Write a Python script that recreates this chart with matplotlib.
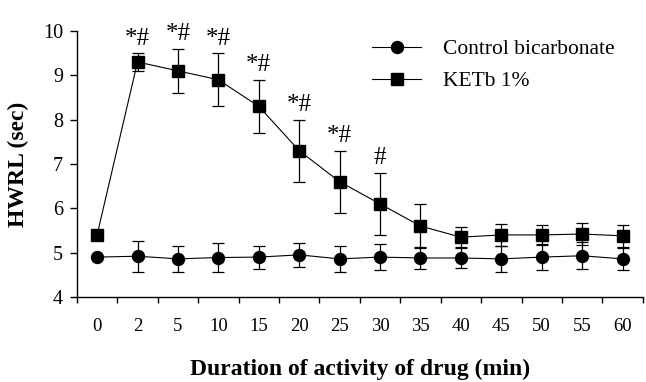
import numpy as np
import matplotlib.pyplot as plt
from matplotlib.lines import Line2D

plt.rcParams['font.family'] = ['Liberation Serif', 'DejaVu Serif']

# data
times = ['0', '2', '5', '10', '15', '20', '25', '30', '35', '40', '45', '50', '55', '60']
control = [4.90, 4.92, 4.86, 4.89, 4.90, 4.95, 4.86, 4.90, 4.88, 4.88, 4.86, 4.90, 4.93, 4.86]
control_err = [0.0, 0.35, 0.30, 0.33, 0.26, 0.27, 0.30, 0.30, 0.25, 0.22, 0.30, 0.30, 0.30, 0.25]
ketb = [5.40, 9.30, 9.10, 8.90, 8.30, 7.30, 6.60, 6.10, 5.60, 5.35, 5.40, 5.40, 5.42, 5.38]
ketb_err = [0.0, 0.20, 0.50, 0.60, 0.60, 0.70, 0.70, 0.70, 0.50, 0.22, 0.25, 0.23, 0.25, 0.25]
marks = ['', '*#', '*#', '*#', '*#', '*#', '*#', '#', '', '', '', '', '', '']

x = np.arange(len(times))

fig = plt.figure(figsize=(6.46, 3.82), dpi=100)
ax = fig.add_axes([0.119, 0.2225, 0.876, 0.6965])

ax.errorbar(x, control, yerr=control_err, fmt='-o', color='black', ms=8.6,
            lw=0.8, elinewidth=0.9, capsize=4.3, capthick=0.9)
ax.errorbar(x, ketb, yerr=ketb_err, fmt='-s', color='black', ms=8,
            lw=0.8, elinewidth=0.9, capsize=4.3, capthick=0.9)

for i, m in enumerate(marks):
    if m:
        ax.text(x[i], ketb[i] + ketb_err[i] + 0.08, m, ha='center', va='bottom',
                fontsize=18)

ax.set_xlim(-0.5, len(times) - 0.5)
ax.set_ylim(4, 10)
ax.set_yticks(range(4, 11))

# tick marks between categories, labels at category centres
ax.set_xticks(np.arange(-0.5, len(times), 1.0))
ax.set_xticklabels([])
ax.set_xticks(x, minor=True)
ax.set_xticklabels(times, minor=True)
ax.tick_params(axis='x', which='minor', length=0, pad=15, labelsize=13.5)
ax.tick_params(axis='x', which='major', length=4, width=1, direction='out')
ax.tick_params(axis='y', length=5, width=1, labelsize=14.5, pad=5)

for s in ['top', 'right']:
    ax.spines[s].set_visible(False)
for s in ['left', 'bottom']:
    ax.spines[s].set_linewidth(1)

ax.set_ylabel('HWRL (sec)', fontsize=17, fontweight='bold', labelpad=10)
ax.set_xlabel('Duration of activity of drug (min)', fontsize=17,
              fontweight='bold', labelpad=17)

handles = [Line2D([], [], color='black', marker='o', ms=8.6, lw=0.8),
           Line2D([], [], color='black', marker='s', ms=8, lw=0.8)]
fig.legend(handles, ['Control bicarbonate', 'KETb 1%'], loc='upper left',
           bbox_to_anchor=(0.559, 0.925), frameon=False, fontsize=15.5,
           borderpad=0, handlelength=2.3, handletextpad=1.0, labelspacing=0.55)

fig.savefig('out.png', dpi=100)
